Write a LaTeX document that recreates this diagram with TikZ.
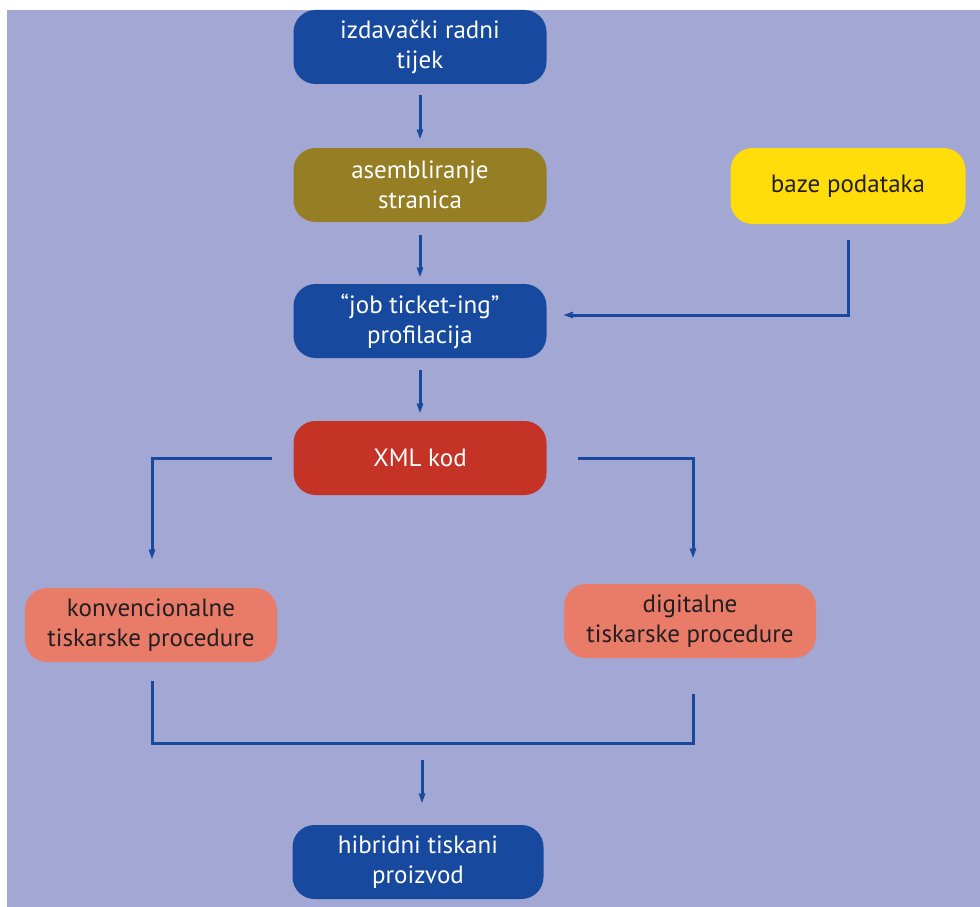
\documentclass[tikz,border=0pt]{standalone}
\usepackage{fontspec}
\setmainfont{PT Sans}
\usetikzlibrary{arrows.meta}
\definecolor{bgcol}{HTML}{A2A7D3}
\definecolor{boxblue}{HTML}{174A9E}
\definecolor{boxolive}{HTML}{957E24}
\definecolor{boxred}{HTML}{C53327}
\definecolor{boxyellow}{HTML}{FFDD0B}
\definecolor{boxsalmon}{HTML}{E97C69}
\definecolor{txtdark}{HTML}{231F20}
\begin{document}
\begin{tikzpicture}[x=1pt,y=-1pt,
    box/.style={rounded corners=22pt,minimum width=253pt,minimum height=74pt,
      align=center,font=\fontsize{25}{30}\selectfont,text=white,inner sep=0pt},
    line/.style={draw=boxblue,line width=3pt},
    arr/.style={line,-{Stealth[length=19pt,width=14pt,inset=13pt]}}]
          \useasboundingbox (0,0) rectangle (980,907);
          \fill[bgcol] (7,10) rectangle (980,907);

          \node[box,fill=boxblue] (tijek) at (420,47) {izdavački radni\\tijek};
          \node[box,fill=boxolive] (asembl) at (420,185) {asembliranje\\stranica};
          \node[box,fill=boxblue] (ticket) at (420,321) {“job ticket-ing”\\profilacija};
          \node[box,fill=boxyellow,text=txtdark,minimum width=235pt,minimum height=76pt] (baze) at (848,186) {baze podataka};
          \node[box,fill=boxred] (xml) at (420,458) {XML kod};
          \node[box,fill=boxsalmon,text=txtdark,minimum width=252pt] (konv) at (151,625) {konvencionalne\\tiskarske procedure};
          \node[box,fill=boxsalmon,text=txtdark,minimum width=252pt] (digit) at (690,621) {digitalne\\tiskarske procedure};
          \node[box,fill=boxblue,minimum width=251pt] (hibrid) at (418,862) {hibridni tiskani\\proizvod};

          \draw[arr,shorten <=11pt,shorten >=9pt] (tijek) -- (asembl);
          \draw[arr,shorten <=13pt,shorten >=7pt] (asembl) -- (ticket);
          \draw[arr,shorten <=12pt,shorten >=8pt] (ticket) -- (xml);
          \draw[arr,shorten <=16pt,shorten >=17pt] (baze.south) |- ([yshift=6pt]ticket.east);

          \draw[arr,shorten <=23pt,shorten >=29pt] ([xshift=2pt]xml.west) -| ([xshift=1pt]konv.north);
          \draw[arr,shorten <=31pt,shorten >=26pt] (xml.east) -| ([xshift=3pt]digit.north);

          \coordinate (spoj) at (422,743);
          \draw[line] ([xshift=1pt,yshift=-19pt]konv.south) |- (spoj) -| ([xshift=3pt,yshift=-36pt]digit.south);
          \draw[arr,shorten <=17pt,shorten >=22pt] (spoj) -- (spoj |- hibrid.north);
        \end{tikzpicture}
\end{document}
